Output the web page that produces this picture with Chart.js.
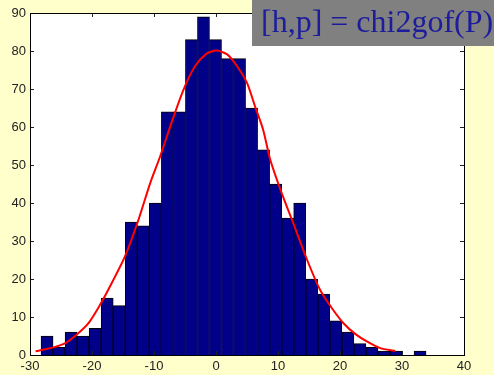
<!DOCTYPE html>
<html><head><meta charset="utf-8">
<script src="https://cdn.jsdelivr.net/npm/chart.js@4.4.0/dist/chart.umd.min.js"></script>
<style>html,body{margin:0;padding:0;background:#FFFFCC;overflow:hidden}</style>
</head><body>
<canvas id="c" width="494" height="375" style="display:block;width:494px;height:375px"></canvas>
<script>
const binCenters = [-27.25,-25.31,-23.37,-21.43,-19.49,-17.55,-15.60,-13.66,-11.72,-9.78,-7.84,-5.90,-3.96,-2.02,-0.08,1.86,3.80,5.74,7.68,9.62,11.56,13.50,15.45,17.39,19.33,21.27,23.21,25.15,27.09,29.03,30.97,32.91];
const counts = [5,2,6,5,7,15,13,35,34,40,64,64,83,89,83,78,78,65,54,45,36,40,20,16,9,6,3,2,1,1,0,1];
const curveX = [-29.1,-26.2,-24.3,-22.5,-20.6,-18.7,-17.4,-14.7,-12.5,-10.6,-9.0,-7.1,-5.25,-3.4,-1.5,0.1,1.8,3.4,5.0,6.3,7.6,8.75,10.6,12.25,14.7,16.8,18.7,20.6,22.5,24.4,26.5,28.9];
const curveY = [1.0,2.0,3.1,5.3,8.3,13.2,17.1,25.9,35.6,45.3,52.3,61.5,69.8,76.0,79.3,80.1,79.1,76.0,71.6,65.4,59.3,51.4,42.6,35.6,25.0,17.1,12.3,8.3,5.5,3.5,1.8,1.1];
const xTicks = [-30,-20,-10,0,10,20,30,40];
const yTicks = [0,10,20,30,40,50,60,70,80,90];
const boxText = "[h,p] = chi2gof(P)";

const frame = {
  id: 'frame',
  beforeDraw(chart) {
    const {ctx, chartArea: a} = chart;
    ctx.save();
    ctx.fillStyle = '#FFFFCC';
    ctx.fillRect(0, 0, chart.width, chart.height);
    ctx.fillStyle = '#FFFFFF';
    ctx.fillRect(a.left, a.top, a.right - a.left, a.bottom - a.top);
    ctx.restore();
  },
  afterDraw(chart) {
    const {ctx, chartArea: a, scales} = chart;
    ctx.save();
    ctx.strokeStyle = '#222';
    ctx.lineWidth = 1;
    ctx.beginPath();
    xTicks.forEach(v => {
      const px = Math.round(scales.x.getPixelForValue(v)) + 0.5;
      ctx.moveTo(px, a.bottom); ctx.lineTo(px, a.bottom - 4);
      ctx.moveTo(px, a.top); ctx.lineTo(px, a.top + 4);
    });
    yTicks.forEach(v => {
      const py = Math.round(scales.y.getPixelForValue(v)) + 0.5;
      ctx.moveTo(a.left, py); ctx.lineTo(a.left + 4, py);
      ctx.moveTo(a.right, py); ctx.lineTo(a.right - 4, py);
    });
    ctx.stroke();
    ctx.strokeStyle = '#000';
    ctx.strokeRect(Math.round(a.left) + 0.5, Math.round(a.top) + 0.5, Math.round(a.right - a.left), Math.round(a.bottom - a.top));
    ctx.fillStyle = '#808080';
    ctx.fillRect(252, 0, 242, 46);
    ctx.fillStyle = '#1c1c9c';
    ctx.font = '32px "Liberation Serif", "Times New Roman", serif';
    ctx.textBaseline = 'alphabetic';
    ctx.textAlign = 'left';
    ctx.fillText(boxText, 261, 32);
    ctx.restore();
  }
};

new Chart(document.getElementById('c'), {
  type: 'bar',
  data: {
    datasets: [
      {
        type: 'line',
        data: curveX.map((x, i) => ({x: x, y: curveY[i]})),
        borderColor: '#FF0000',
        borderWidth: 2,
        pointRadius: 0,
        tension: 0.25,
        fill: false,
        order: 0
      },
      {
        type: 'bar',
        data: binCenters.map((x, i) => ({x: x, y: counts[i]})),
        backgroundColor: '#000088',
        borderColor: '#000000',
        borderWidth: 1,
        borderSkipped: 'start',
        barPercentage: 1,
        categoryPercentage: 1,
        order: 1
      }
    ]
  },
  options: {
    responsive: false,
    animation: false,
    devicePixelRatio: 1,
    layout: {padding: {left: 0, top: 13, right: 30, bottom: 0}},
    plugins: {legend: {display: false}, tooltip: {enabled: false}},
    scales: {
      x: {
        type: 'linear',
        min: -30, max: 40,
        offset: false,
        grid: {display: false, drawTicks: false},
        border: {display: false},
        afterBuildTicks: s => { s.ticks = xTicks.map(v => ({value: v})); },
        afterFit: s => { s.height = 20; },
        ticks: {
          padding: 4,
          maxRotation: 0,
          autoSkip: false,
          color: '#222',
          font: {family: '"Liberation Sans", Arial, sans-serif', size: 13}
        }
      },
      y: {
        min: 0, max: 90,
        grid: {display: false, drawTicks: false},
        border: {display: false},
        afterBuildTicks: s => { s.ticks = yTicks.map(v => ({value: v})); },
        afterFit: s => { s.width = 30; },
        ticks: {
          padding: 4,
          autoSkip: false,
          color: '#222',
          font: {family: '"Liberation Sans", Arial, sans-serif', size: 13}
        }
      }
    }
  },
  plugins: [frame]
});
</script>
</body></html>
